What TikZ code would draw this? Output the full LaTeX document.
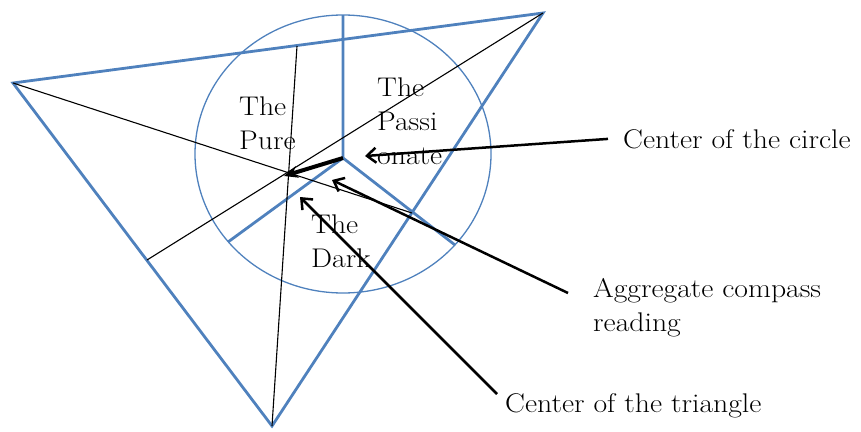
\documentclass[tikz,border=0pt]{standalone}
\usepackage{fontspec}
\setmainfont{Latin Modern Roman}[FakeStretch=1.1]
\usepackage{tikz}
\usetikzlibrary{arrows.meta}
\definecolor{wblue}{RGB}{79,129,189}

\begin{document}
\begin{tikzpicture}[x=1pt, y=-1pt, every node/.style={font=\fontsize{27}{34}\selectfont, inner sep=0pt, align=left, anchor=north west}, edge/.style={wblue, line width=2.8pt}, ln/.style={black, line width=1.1pt}, ptr/.style={line width=2.5pt, -{Straight Barb[length=9pt,width=15pt]}}]
	\useasboundingbox (0,0) rectangle (861,431);
	% triangle and circle
	\coordinate (tl) at (13,83);
	\coordinate (tr) at (543,13);
	\coordinate (tb) at (272,426);
	\coordinate (oc) at (343,154);
	\coordinate (oy) at (343,158);
	\coordinate (g) at (284,176);
	\draw[edge] (tl) -- (tr) -- (tb) -- cycle;
	\draw[wblue, line width=1.3pt] (oc) ellipse [x radius=148pt, y radius=139pt];
	\coordinate (y1) at (343,15);
	\coordinate (y2) at (228,242);
	\coordinate (y3) at (455,245);
	\draw[edge] (y1) -- (oy) -- (y2);
	\draw[edge] (oy) -- (y3);
	% lines through the triangle centre
	\coordinate (m1) at (412,213);
	\coordinate (m2) at (147,260);
	\coordinate (m3) at (297,46);
	\draw[ln] (tl) -- (m1);
	\draw[ln] (tr) -- (m2);
	\draw[ln] (tb) -- (m3);
	% labels
	\node (pure) at (239,97) {The\\Pure};
	\node (passi) at (377,78) {The\\Passi\\onate};
	\node (dark) at (311,215) {The\\Dark};
	\node (lcirc) at (623,129) {Center of the circle};
	\node (lagg) at (593,278) {Aggregate compass\\reading};
	\node (ltri) at (505,393) {Center of the triangle};
	% arrows
	\coordinate (hcirc) at (365,156);
	\coordinate (hagg) at (332,180);
	\coordinate (htri) at (300,197);
	\draw[ptr] ([xshift=-15pt]lcirc.west) -- (hcirc);
	\draw[ptr] ([xshift=-25pt,yshift=-15pt]lagg.north west) -- (hagg);
	\draw[ptr] ([xshift=-8pt,yshift=-1pt]ltri.north west) -- (htri);
	\draw[line width=4pt, -{Stealth[length=14pt,width=12pt]}] (oy) -- (g);
\end{tikzpicture}
\end{document}
